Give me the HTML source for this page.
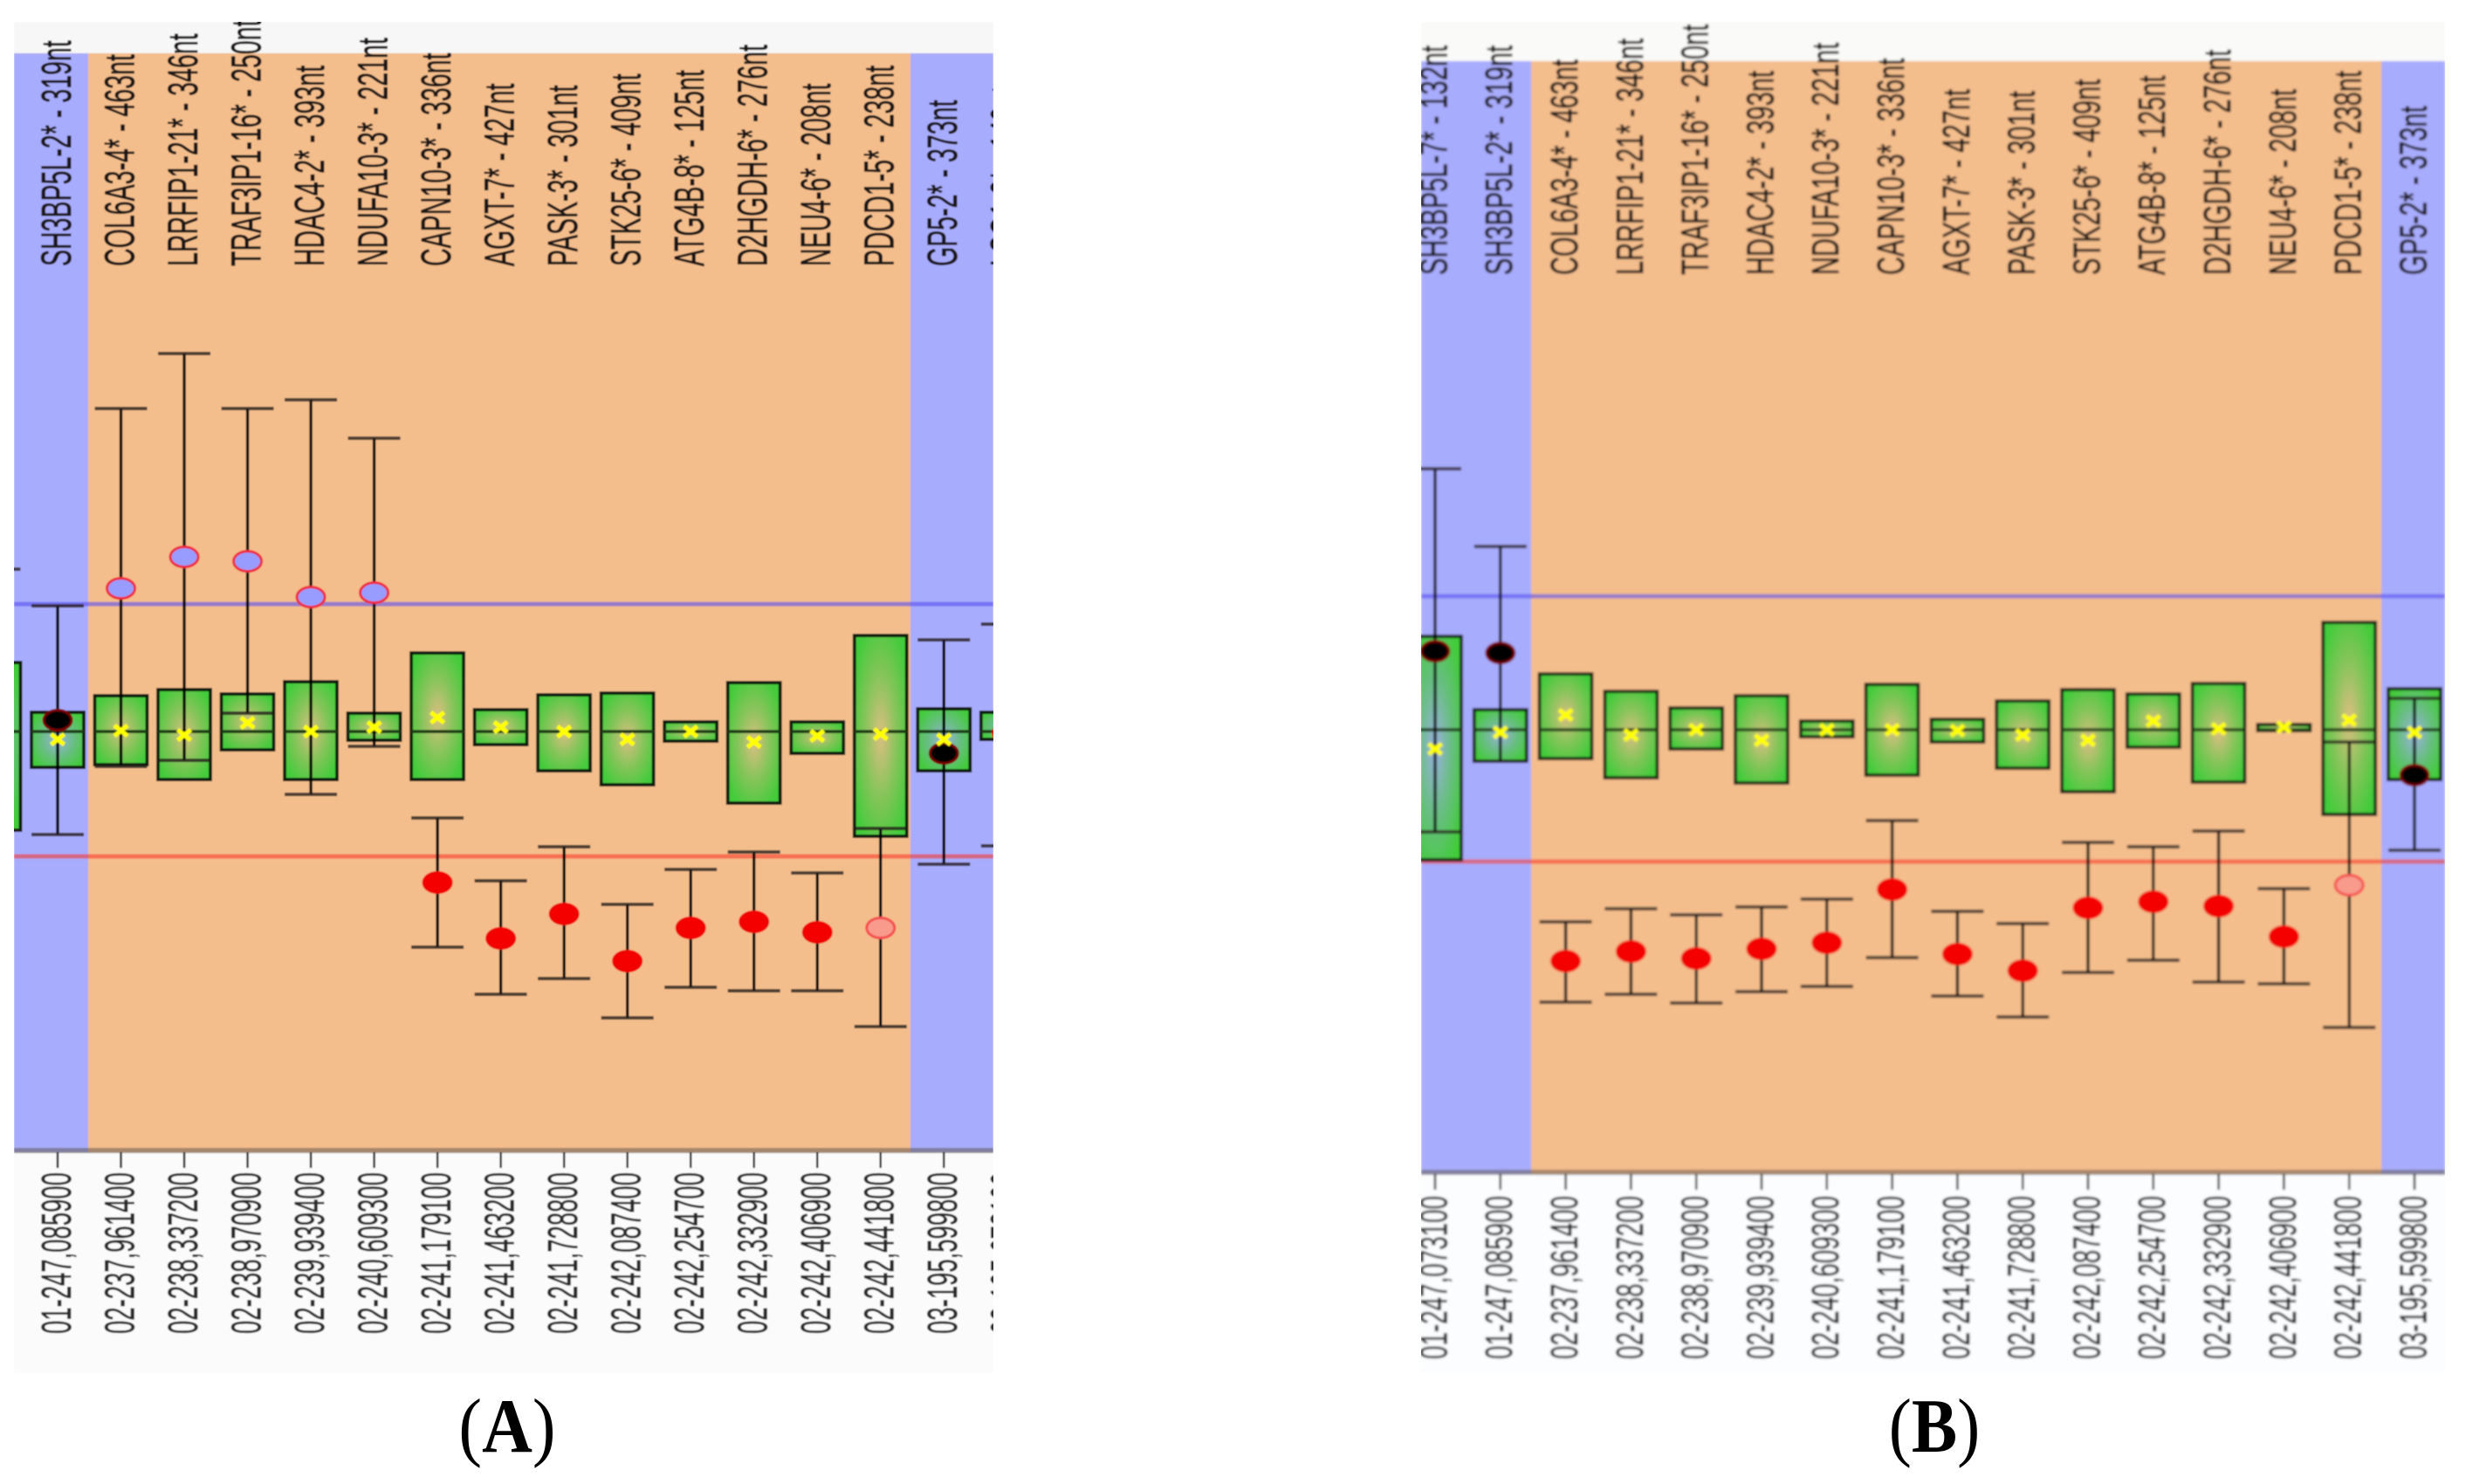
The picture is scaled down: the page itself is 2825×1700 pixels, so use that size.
<!DOCTYPE html>
<html lang="en">
<head>
<meta charset="utf-8">
<title>Gene expression box plots, panels A and B</title>
<style>
html,body{margin:0;padding:0;background:#fff;width:2825px;height:1700px;overflow:hidden}
svg{display:block}
text{font-family:"Liberation Sans",sans-serif}
.cap-title{font-family:"Liberation Serif",serif;fill:#000}
</style>
</head>
<body>
<svg id="figure" xmlns="http://www.w3.org/2000/svg" width="2825" height="1700" viewBox="0 0 2825 1700">
  <defs>
    <radialGradient id="boxFill" cx="50%" cy="50%" r="60%">
      <stop offset="0" stop-color="#44c83c" stop-opacity="0.14"/>
      <stop offset="0.5" stop-color="#44c83c" stop-opacity="0.62"/>
      <stop offset="1" stop-color="#42cc3a" stop-opacity="1"/>
    </radialGradient>
    <clipPath id="clipA"><rect x="16" y="25" width="1122" height="1548"/></clipPath>
    <clipPath id="clipB"><rect x="1628" y="25" width="1173" height="1548"/></clipPath>
    <filter id="softA" x="0" y="0" width="1" height="1"><feGaussianBlur stdDeviation="0.8"/></filter>
    <filter id="softB" x="0" y="0" width="1" height="1"><feGaussianBlur stdDeviation="1.3"/></filter>
  </defs>
  <g id="panelA" clip-path="url(#clipA)"></g>
  <g id="panelB" clip-path="url(#clipB)"></g>
  <text class="cap-title" font-size="88" text-anchor="middle" transform="translate(581,1663) scale(0.91,1)">(<tspan font-weight="bold">A</tspan>)</text>
  <text class="cap-title" font-size="88" text-anchor="middle" transform="translate(2216,1663) scale(0.89,1)">(<tspan font-weight="bold">B</tspan>)</text>
</svg>
<script>
// ---------- Panel A data (value units: distance from the median baseline) ----------
const categoriesA = ["SH3BP5L-7* - 132nt","SH3BP5L-2* - 319nt","COL6A3-4* - 463nt","LRRFIP1-21* - 346nt","TRAF3IP1-16* - 250nt","HDAC4-2* - 393nt","NDUFA10-3* - 221nt","CAPN10-3* - 336nt","AGXT-7* - 427nt","PASK-3* - 301nt","STK25-6* - 409nt","ATG4B-8* - 125nt","D2HGDH-6* - 276nt","NEU4-6* - 208nt","PDCD1-5* - 238nt","GP5-2* - 373nt","LSG1-8* - 149nt"];
const positionsA = ["01-247,073100","01-247,085900","02-237,961400","02-238,337200","02-238,970900","02-239,939400","02-240,609300","02-241,179100","02-241,463200","02-241,728800","02-242,087400","02-242,254700","02-242,332900","02-242,406900","02-242,441800","03-195,599800","03-195,678100"];
const q3A     = [0.79,0.22,0.41,0.48,0.43,0.57,0.21,0.90,0.25,0.42,0.44,0.11,0.56,0.11,1.10,0.26,0.22];
const q1A     = [-1.13,-0.41,-0.38,-0.55,-0.21,-0.55,-0.10,-0.55,-0.15,-0.45,-0.61,-0.11,-0.82,-0.25,-1.20,-0.45,-0.09];
const medianA = [0,0,0,0,0,0,0,0,0,0,0,0,0,0,0,0,0];
const meanA   = [-0.20,-0.09,0.01,-0.04,0.10,0,0.05,0.16,0.05,0,-0.09,0,-0.12,-0.05,-0.03,-0.09,0.06];
const hiA     = [1.86,1.44,3.70,4.33,3.70,3.80,3.36,-0.99,-1.71,-1.32,-1.98,-1.58,-1.38,-1.62,-1.11,1.05,1.23];
const loA     = [-1.13,-1.18,-0.40,-0.33,0.21,-0.72,-0.17,-2.47,-3.01,-2.83,-3.28,-2.93,-2.97,-2.97,-3.38,-1.52,-1.31];
const pointA  = [0.13,0.13,1.64,2.00,1.95,1.54,1.59,-1.73,-2.37,-2.09,-2.63,-2.25,-2.18,-2.30,-2.25,-0.25,-0.02];
const kindA   = ["black","black","blue","blue","blue","blue","blue","red","red","red","red","red","red","red","pale","black","red"];
const upperThresholdA = 1.46;
const lowerThresholdA = -1.43;

// ---------- Panel B data ----------
const categoriesB = ["SH3BP5L-7* - 132nt","SH3BP5L-2* - 319nt","COL6A3-4* - 463nt","LRRFIP1-21* - 346nt","TRAF3IP1-16* - 250nt","HDAC4-2* - 393nt","NDUFA10-3* - 221nt","CAPN10-3* - 336nt","AGXT-7* - 427nt","PASK-3* - 301nt","STK25-6* - 409nt","ATG4B-8* - 125nt","D2HGDH-6* - 276nt","NEU4-6* - 208nt","PDCD1-5* - 238nt","GP5-2* - 373nt"];
const positionsB = ["01-247,073100","01-247,085900","02-237,961400","02-238,337200","02-238,970900","02-239,939400","02-240,609300","02-241,179100","02-241,463200","02-241,728800","02-242,087400","02-242,254700","02-242,332900","02-242,406900","02-242,441800","03-195,599800"];
const q3B     = [1.07,0.23,0.64,0.44,0.25,0.39,0.10,0.52,0.12,0.33,0.46,0.41,0.53,0.06,1.23,0.47];
const q1B     = [-1.49,-0.36,-0.33,-0.55,-0.22,-0.61,-0.08,-0.52,-0.14,-0.44,-0.71,-0.20,-0.60,-0.01,-0.97,-0.57];
const medianB = [0,0,0,0,0,0,0,0,0,0,0,0,0,0,0,0];
const meanB   = [-0.22,-0.03,0.17,-0.06,0,-0.12,0,0,-0.01,-0.06,-0.12,0.10,0.01,0.03,0.11,-0.03];
const hiB     = [2.99,2.10,-2.20,-2.05,-2.12,-2.03,-1.94,-1.04,-2.08,-2.22,-1.29,-1.34,-1.16,-1.82,-0.14,0.36];
const loB     = [-1.17,-0.36,-3.12,-3.03,-3.13,-3.00,-2.94,-2.61,-3.05,-3.29,-2.78,-2.64,-2.89,-2.91,-3.41,-1.38];
const pointB  = [0.90,0.88,-2.65,-2.54,-2.62,-2.51,-2.44,-1.83,-2.57,-2.76,-2.04,-1.97,-2.02,-2.37,-1.78,-0.52];
const kindB   = ["black","black","red","red","red","red","red","red","red","red","red","red","red","red","pale","black"];
const upperThresholdB = 1.53;
const lowerThresholdB = -1.51;

const SVGNS = "http://www.w3.org/2000/svg";
const POINT_STYLES = {
  black:{fill:"#000000",stroke:"#7a0000"},
  blue:{fill:"#999cff",stroke:"#f0283c"},
  red:{fill:"#f50000",stroke:"#f00000"},
  pale:{fill:"#f89a8c",stroke:"#f45050"}
};

function mk(tag, attrs, parent){
  const e = document.createElementNS(SVGNS, tag);
  for (const k in attrs) e.setAttribute(k, attrs[k]);
  parent.appendChild(e);
  return e;
}

function drawPanel(root, cfg, d){
  const xPos = i => cfg.x0 + cfg.step * i;
  const yPos = v => cfg.zeroY - v * cfg.pxPerUnit;
  const L = cfg.left, R = cfg.right;
  const soft = mk("g", {filter:"url(#" + cfg.filter + ")"}, root);
  
  

  const header = mk("rect", {x:L, y:cfg.top, width:R-L, height:cfg.bandTop-cfg.top, fill:cfg.headerFill}, soft);
  
  
  const footer = mk("rect", {x:L, y:cfg.bandBottom, width:R-L, height:cfg.bottom-cfg.bandBottom, fill:cfg.footerFill}, soft);
  
  

  const bandL = mk("rect", {x:L, y:cfg.bandTop, width:cfg.orangeL-L, height:cfg.bandBottom-cfg.bandTop, fill:"#a8acfc"}, soft);
  
  
  const bandM = mk("rect", {x:cfg.orangeL, y:cfg.bandTop, width:cfg.orangeR-cfg.orangeL, height:cfg.bandBottom-cfg.bandTop, fill:"#f4bd8c"}, soft);
  
  
  const bandR = mk("rect", {x:cfg.orangeR, y:cfg.bandTop, width:R-cfg.orangeR, height:cfg.bandBottom-cfg.bandTop, fill:"#a8acfc"}, soft);
  
  

  const axisBar = mk("rect", {x:L, y:cfg.bandBottom-5, width:R-L, height:6, fill:"#5a5048", "fill-opacity":"0.5"}, soft);
  
  

  const upper = mk("line", {x1:L, x2:R, y1:yPos(d.upper), y2:yPos(d.upper), stroke:"#5a50f0", "stroke-opacity":"0.6", "stroke-width":"5"}, soft);
  
  
  const lower = mk("line", {x1:L, x2:R, y1:yPos(d.lower), y2:yPos(d.lower), stroke:"#f83020", "stroke-opacity":"0.55", "stroke-width":"5"}, soft);
  
  

  d.categories.forEach((name, i) => {
    const cx = xPos(i);
    const hw = cfg.halfWidth;

    const group = mk("g", {}, soft);
    
    

    const box = mk("rect", {x:cx-hw, y:yPos(d.q3[i]), width:hw*2, height:yPos(d.q1[i])-yPos(d.q3[i]), fill:"url(#boxFill)", stroke:"#0e1a0a", "stroke-width":"3.8"}, group);
    
    

    const med = mk("line", {x1:cx-hw, x2:cx+hw, y1:yPos(d.median[i]), y2:yPos(d.median[i]), stroke:"#1e3a16", "stroke-width":"3.6"}, group);
    
    

    const whisker = mk("line", {x1:cx, x2:cx, y1:yPos(d.hi[i]), y2:yPos(d.lo[i]), stroke:"#000", "stroke-width":"3.4"}, group);
    
    

    const capHi = mk("line", {x1:cx-hw, x2:cx+hw, y1:yPos(d.hi[i]), y2:yPos(d.hi[i]), stroke:"#241c1c", "stroke-opacity":"0.8", "stroke-width":"4"}, group);
    
    

    const capLo = mk("line", {x1:cx-hw, x2:cx+hw, y1:yPos(d.lo[i]), y2:yPos(d.lo[i]), stroke:"#241c1c", "stroke-opacity":"0.8", "stroke-width":"4"}, group);
    
    

    const ps = POINT_STYLES[d.kind[i]];
    const dot = mk("ellipse", {cx:cx, cy:yPos(d.point[i]), rx:cfg.dotRx, ry:cfg.dotRy, fill:ps.fill, stroke:ps.stroke, "stroke-width":"3"}, group);
    
    

    const my = yPos(d.mean[i]);
    const m1 = mk("line", {x1:cx-7.5, x2:cx+7.5, y1:my-6, y2:my+6, stroke:"#ffff00", "stroke-width":"5"}, group);
    
    
    const m2 = mk("line", {x1:cx-7.5, x2:cx+7.5, y1:my+6, y2:my-6, stroke:"#ffff00", "stroke-width":"5"}, group);
    
    

    const tick = mk("line", {x1:cx, x2:cx, y1:cfg.bandBottom, y2:cfg.tickEnd, stroke:"#000", "stroke-width":"2.4"}, group);
    
    

    const topLabel = mk("text", {"font-size":cfg.fontSize, fill:"#1a1614", stroke:"#1a1614", "stroke-width":"0.9", transform:"translate(" + (cx+cfg.labelDx) + "," + cfg.topLabelY + ") rotate(-90) scale(" + cfg.topScale + ",1)", dy:"0.35em"}, group);
    topLabel.textContent = name;
    
    

    const botLabel = mk("text", {"font-size":cfg.fontSize, fill:"#2a2a2a", stroke:"#2a2a2a", "stroke-width":"0.7", transform:"translate(" + (cx+cfg.labelDx) + "," + cfg.bottomLabelY + ") rotate(-90) scale(" + cfg.bottomScale + ",1)", dy:"0.35em"}, group);
    botLabel.textContent = d.positions[i];
    
    
  });
}

drawPanel(document.getElementById("panelA"), {
  left:16, right:1138, top:25, bottom:1573, bandTop:61, bandBottom:1320,
  orangeL:101, orangeR:1043, x0:-6.5, step:72.52, zeroY:838, pxPerUnit:100,
  halfWidth:30, dotRx:16, dotRy:11.5, tickEnd:1338,
  fontSize:48, topScale:0.595, bottomScale:0.573, topLabelY:305, bottomLabelY:1528, labelDx:-2,
  headerFill:"#f7f7f7", footerFill:"#fbfbfb", filter:"softA"
}, {
  categories:categoriesA, positions:positionsA, q3:q3A, q1:q1A, median:medianA, mean:meanA,
  hi:hiA, lo:loA, point:pointA, kind:kindA, upper:upperThresholdA, lower:lowerThresholdA
});

drawPanel(document.getElementById("panelB"), {
  left:1628, right:2801, top:25, bottom:1573, bandTop:70, bandBottom:1345,
  orangeL:1754, orangeR:2728, x0:1644, step:74.8, zeroY:836, pxPerUnit:100,
  halfWidth:30, dotRx:16, dotRy:11.5, tickEnd:1363,
  fontSize:44, topScale:0.66, bottomScale:0.632, topLabelY:315, bottomLabelY:1557, labelDx:-2,
  headerFill:"#fafaf8", footerFill:"#fbfdfe", filter:"softB"
}, {
  categories:categoriesB, positions:positionsB, q3:q3B, q1:q1B, median:medianB, mean:meanB,
  hi:hiB, lo:loB, point:pointB, kind:kindB, upper:upperThresholdB, lower:lowerThresholdB
});
</script>
</body>
</html>
